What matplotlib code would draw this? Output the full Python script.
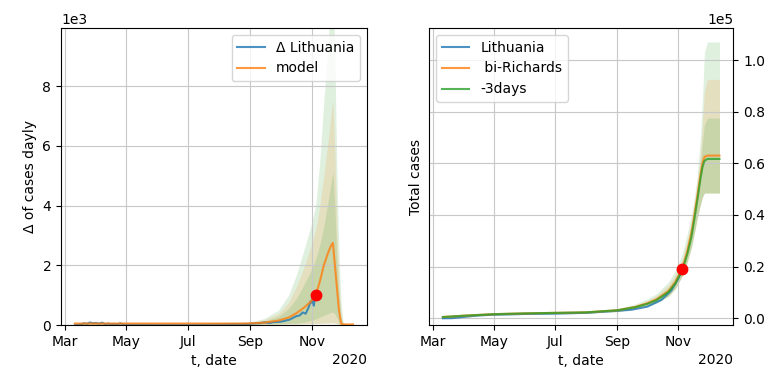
import matplotlib.pyplot as plt
import matplotlib.dates as mdates
import numpy as np
import pandas as pd

# ---- left panel: daily cases ----
daily_dates = pd.to_datetime([
    '2020-03-11', '2020-03-14', '2020-03-17', '2020-03-20', '2020-03-23', '2020-03-26',
    '2020-03-29', '2020-04-01', '2020-04-04', '2020-04-07', '2020-04-10', '2020-04-13',
    '2020-04-16', '2020-04-19', '2020-04-22', '2020-04-25', '2020-04-28', '2020-05-05',
    '2020-05-15', '2020-05-25', '2020-06-05', '2020-06-15', '2020-06-25', '2020-07-05',
    '2020-07-15', '2020-07-25', '2020-08-05', '2020-08-15', '2020-08-25', '2020-09-01',
    '2020-09-05', '2020-09-10', '2020-09-15', '2020-09-20', '2020-09-25', '2020-10-01',
    '2020-10-05', '2020-10-10', '2020-10-14', '2020-10-17', '2020-10-20', '2020-10-23',
    '2020-10-26', '2020-10-29', '2020-10-31', '2020-11-01', '2020-11-02', '2020-11-03',
    '2020-11-04'])
daily_cases = [0, 6, 20, 60, 40, 85, 60, 70, 45, 80, 30, 50,
               25, 40, 20, 60, 15, 10,
               15, 8, 5, 10, 5, 8,
               15, 20, 25, 35, 30, 40,
               55, 60, 90, 70, 100, 110,
               140, 180, 250, 300, 320, 420,
               380, 600, 800, 750, 950, 650,
               900]

model_dates = pd.to_datetime([
    '2020-03-11', '2020-04-01', '2020-05-01', '2020-06-01', '2020-07-01', '2020-08-01',
    '2020-08-16', '2020-09-01', '2020-09-15', '2020-09-29', '2020-10-09', '2020-10-17',
    '2020-10-25', '2020-10-31', '2020-11-05', '2020-11-09', '2020-11-13', '2020-11-17',
    '2020-11-20', '2020-11-22', '2020-11-24', '2020-11-26', '2020-11-28', '2020-11-30',
    '2020-12-02', '2020-12-05', '2020-12-12'])
model_daily = [50, 50, 50, 50, 50, 50, 50, 55, 80, 150, 250, 400,
               600, 780, 1000, 1450, 2000, 2400, 2650, 2750, 2000, 1250, 500, 60,
               20, 20, 20]
green_hi_d = [60, 60, 60, 60, 60, 60, 70, 100, 220, 500, 1000, 1700,
              2600, 3300, 4000, 5500, 7500, 9300, 11000, 12000, 9000, 5000, 2500, 800,
              100, 25, 20]
orange_hi_d = [55, 55, 55, 55, 55, 55, 60, 80, 170, 380, 750, 1300,
               2000, 2600, 3200, 4000, 5000, 6100, 7000, 7550, 5700, 3200, 1500, 400,
               60, 20, 20]
inner_hi_d = [50, 50, 50, 50, 50, 50, 55, 70, 130, 290, 550, 900,
              1400, 1800, 2200, 2700, 3300, 4100, 4700, 5150, 3900, 2200, 1000, 250,
              40, 20, 20]
band_lo_d = [10, 10, 10, 10, 10, 10, 10, 15, 20, 25, 30, 35,
             40, 45, 50, 55, 60, 65, 70, 70, 60, 40, 20, 10,
             5, 5, 5]
inner_lo_d = [10, 10, 10, 10, 10, 10, 10, 20, 30, 40, 50, 60,
              100, 150, 200, 260, 320, 380, 420, 430, 370, 250, 100, 20,
              5, 5, 5]

# ---- right panel: total cases ----
total_dates = pd.to_datetime([
    '2020-03-11', '2020-03-20', '2020-04-01', '2020-04-15', '2020-05-01', '2020-06-01',
    '2020-07-01', '2020-08-01', '2020-09-01', '2020-09-15', '2020-10-01', '2020-10-15',
    '2020-10-25', '2020-11-01', '2020-11-05'])
total_cases = [3, 50, 530, 1100, 1400, 1680, 1820, 2120, 2900, 3300, 4500, 7100,
               10800, 15500, 19000]

fit_dates = pd.to_datetime([
    '2020-03-11', '2020-04-01', '2020-05-01', '2020-06-01', '2020-07-01', '2020-08-01',
    '2020-08-16', '2020-09-01', '2020-09-19', '2020-10-01', '2020-10-10', '2020-10-22',
    '2020-10-29', '2020-11-05', '2020-11-10', '2020-11-14', '2020-11-17', '2020-11-20',
    '2020-11-23', '2020-11-25', '2020-11-27', '2020-11-30', '2020-12-12'])
bi_richards = [500, 1000, 1600, 1900, 2100, 2300, 2700, 3100, 4400, 5800, 7300, 10500,
               14000, 19500, 26000, 33000, 40000, 47500, 55500, 60000, 62500, 63000, 63000]
minus3 = [500, 1000, 1600, 1900, 2100, 2300, 2700, 3100, 4300, 5600, 7000, 10100,
          13500, 18800, 25000, 31500, 38500, 46000, 54000, 58500, 61000, 61700, 61700]
green_hi_t = [800, 1300, 1900, 2200, 2400, 2600, 3100, 3700, 5500, 7500, 9500, 14000,
              18500, 25000, 33000, 40000, 47000, 56000, 70000, 85000, 103000, 107000, 107000]
orange_hi_t = [700, 1200, 1800, 2100, 2300, 2500, 2900, 3500, 5100, 6900, 8700, 12800,
               17000, 23000, 30500, 37500, 44500, 53000, 64000, 75000, 88000, 92500, 92500]
inner_hi_t = [600, 1100, 1700, 2000, 2200, 2400, 2800, 3300, 4800, 6400, 8100, 11800,
              15800, 21500, 29000, 36000, 43000, 51000, 60000, 68000, 75000, 77500, 77500]
band_lo_t = [300, 700, 1200, 1500, 1700, 1900, 2300, 2600, 3700, 4800, 6000, 8500,
             11500, 16500, 22000, 27500, 33000, 39000, 44000, 47000, 48500, 48500, 48500]

now_date = pd.to_datetime('2020-11-05')
now_daily = 1000
now_total = 19000

fig = plt.figure(figsize=(7.69, 3.75), dpi=100)
ax1 = fig.add_axes([0.0793, 0.1333, 0.3979, 0.792])
ax2 = fig.add_axes([0.5579, 0.1333, 0.3957, 0.792])

# left
ax1.fill_between(model_dates, band_lo_d, green_hi_d, color='tab:green', alpha=0.15, lw=0)
ax1.fill_between(model_dates, band_lo_d, orange_hi_d, color='tab:orange', alpha=0.15, lw=0)
ax1.fill_between(model_dates, inner_lo_d, inner_hi_d, color='tab:green', alpha=0.15, lw=0)
ax1.plot(daily_dates, daily_cases, color='tab:blue', alpha=0.8, label='Δ Lithuania')
ax1.plot(model_dates, model_daily, color='tab:orange', alpha=0.8, label='model')
ax1.plot([now_date], [now_daily], 'o', color='red', ms=7.5)
ax1.set_ylim(0, 9950)
ax1.set_ylabel('Δ of cases dayly')
ax1.set_xlabel('t, date')
ax1.ticklabel_format(axis='y', style='sci', scilimits=(0, 0))
ax1.grid(True, color='#c8c8c8')
ax1.legend(loc='upper right')

# right
ax2.fill_between(fit_dates, band_lo_t, green_hi_t, color='tab:green', alpha=0.15, lw=0)
ax2.fill_between(fit_dates, band_lo_t, orange_hi_t, color='tab:orange', alpha=0.15, lw=0)
ax2.fill_between(fit_dates, band_lo_t, inner_hi_t, color='tab:green', alpha=0.15, lw=0)
ax2.plot(total_dates, total_cases, color='tab:blue', alpha=0.8, label='Lithuania')
ax2.plot(fit_dates, bi_richards, color='tab:orange', alpha=0.8, label=' bi-Richards')
ax2.plot(fit_dates, minus3, color='tab:green', alpha=0.8, label='-3days')
ax2.plot([now_date], [now_total], 'o', color='red', ms=7.5)
ax2.set_ylim(-2600, 112400)
ax2.set_ylabel('Total cases')
ax2.set_xlabel('t, date')
ax2.yaxis.tick_right()
ax2.yaxis.set_label_position('left')
ax2.ticklabel_format(axis='y', style='sci', scilimits=(0, 0))
ax2.grid(True, color='#c8c8c8')
ax2.legend(loc='upper left')

for ax in (ax1, ax2):
    loc = mdates.MonthLocator(bymonth=[3, 5, 7, 9, 11])
    ax.xaxis.set_major_locator(loc)
    ax.xaxis.set_major_formatter(mdates.ConciseDateFormatter(loc))

plt.savefig('out.png')
